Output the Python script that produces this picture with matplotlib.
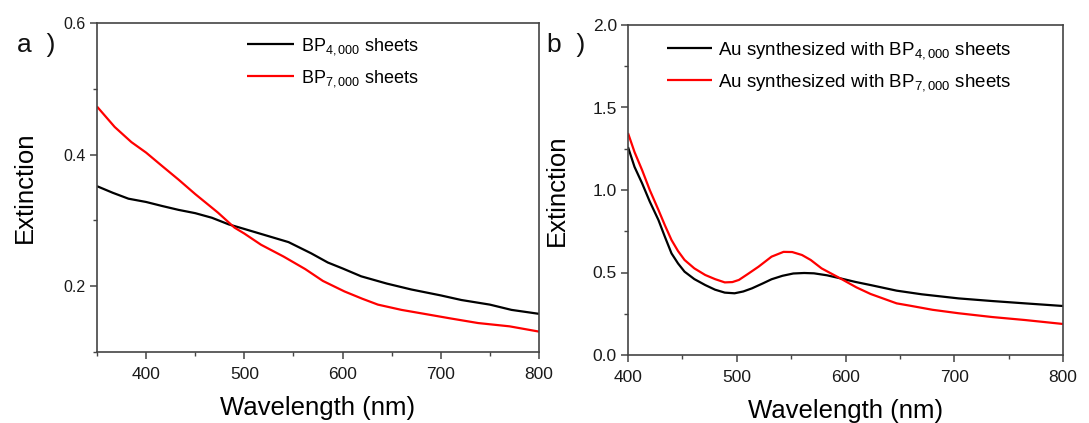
import matplotlib
matplotlib.use("Agg")
import matplotlib.pyplot as plt
from matplotlib.ticker import MultipleLocator, FormatStrFormatter

plt.rcParams['font.family'] = ['Liberation Sans', 'DejaVu Sans']
plt.rcParams['mathtext.fontset'] = 'custom'
plt.rcParams['mathtext.rm'] = 'Liberation Sans'
plt.rcParams['mathtext.it'] = 'Liberation Sans:italic'

# ---- Panel a data ----
wl_a_black = [350, 366, 382, 400, 416, 433, 450, 467, 484, 500, 518, 545, 568, 585, 600, 619,
              645, 670, 700, 721, 750, 772, 800]
ext_a_black = [0.352, 0.342, 0.333, 0.328, 0.322, 0.316, 0.311, 0.304, 0.294, 0.287, 0.279,
               0.267, 0.250, 0.236, 0.227, 0.215, 0.204, 0.195, 0.186, 0.179, 0.172, 0.164, 0.158]
wl_a_red = [350, 368, 385, 400, 416, 433, 450, 473, 490, 500, 517, 540, 562, 580, 602, 620,
            636, 660, 687, 710, 738, 770, 800]
ext_a_red = [0.473, 0.442, 0.419, 0.403, 0.383, 0.362, 0.340, 0.312, 0.289, 0.280, 0.263,
             0.245, 0.226, 0.208, 0.192, 0.181, 0.172, 0.164, 0.157, 0.151, 0.144, 0.139, 0.131]

# ---- Panel b data ----
wl_b_black = [400, 406, 413, 420, 428, 434, 440, 446, 452, 461, 471, 480, 489, 498, 506, 514,
              524, 532, 542, 552, 562, 571, 583, 595, 609, 623, 647, 670, 704, 735, 765, 800]
ext_b_black = [1.26, 1.14, 1.04, 0.93, 0.818, 0.715, 0.616, 0.555, 0.505, 0.460, 0.424, 0.396,
               0.378, 0.374, 0.385, 0.404, 0.434, 0.459, 0.480, 0.494, 0.497, 0.495, 0.483,
               0.465, 0.443, 0.424, 0.390, 0.368, 0.343, 0.327, 0.313, 0.297]
wl_b_red = [400, 406, 413, 420, 428, 434, 440, 446, 452, 461, 471, 480, 489, 496, 502, 510,
            520, 532, 543, 551, 560, 568, 578, 595, 610, 623, 647, 660, 680, 704, 735, 765, 800]
ext_b_red = [1.345, 1.23, 1.12, 1.00, 0.879, 0.785, 0.697, 0.630, 0.576, 0.525, 0.485, 0.460,
             0.440, 0.442, 0.455, 0.490, 0.535, 0.596, 0.625, 0.624, 0.606, 0.576, 0.525,
             0.465, 0.410, 0.370, 0.313, 0.298, 0.274, 0.253, 0.230, 0.212, 0.188]

labels_a = [r'BP$_{\mathrm{4,000}}$ sheets', r'BP$_{\mathrm{7,000}}$ sheets']
labels_b = [r'Au synthesized with BP$_{\mathrm{4,000}}$ sheets',
            r'Au synthesized with BP$_{\mathrm{7,000}}$ sheets']

W, H = 1089, 423
fig = plt.figure(figsize=(W / 100, H / 100), dpi=100)

def box(l, t, r, b):
    return [l / W, 1 - b / H, (r - l) / W, (b - t) / H]

ax1 = fig.add_axes(box(97, 23, 539, 352))
ax2 = fig.add_axes(box(628, 25, 1063, 355))

spine_col = '#444444'
tick_col = '#1a1a1a'

def style(ax, ysize):
    for s in ax.spines.values():
        s.set_color(spine_col)
        s.set_linewidth(1.2)
    ax.tick_params(which='both', direction='out', color=spine_col, top=False, right=False)
    ax.tick_params(which='major', length=5, width=1.1)
    ax.tick_params(which='minor', length=3, width=1.0)
    ax.tick_params(axis='x', labelsize=12.5, labelcolor=tick_col, pad=6)
    ax.tick_params(axis='y', labelsize=ysize, labelcolor=tick_col, pad=3)

lkw = dict(lw=1.6, solid_joinstyle='round', solid_capstyle='butt')

# Panel a
ax1.plot(wl_a_black, ext_a_black, color='black', label=labels_a[0], **lkw)
ax1.plot(wl_a_red, ext_a_red, color='#ff0000', label=labels_a[1], **lkw)
ax1.set_xlim(350, 800)
ax1.set_ylim(0.1, 0.6)
ax1.set_xticks([400, 500, 600, 700, 800])
ax1.xaxis.set_minor_locator(MultipleLocator(50))
ax1.set_yticks([0.2, 0.4, 0.6])
ax1.yaxis.set_minor_locator(MultipleLocator(0.1))
style(ax1, 11.5)
ax1.set_xlabel('Wavelength (nm)', fontsize=18.5, labelpad=10)
ax1.set_ylabel('Extinction', fontsize=18.5, labelpad=19)
ax1.legend(loc='upper left', bbox_to_anchor=(0.34, 0.96), frameon=False,
           fontsize=13, handlelength=2.6, handletextpad=0.4, labelspacing=0.6,
           borderpad=0, borderaxespad=0)
fig.text(17 / W, 1 - 52 / H, 'a  )', fontsize=19, color='#111111', ha='left', va='baseline')

# Panel b
ax2.plot(wl_b_black, ext_b_black, color='black', label=labels_b[0], **lkw)
ax2.plot(wl_b_red, ext_b_red, color='#ff0000', label=labels_b[1], **lkw)
ax2.set_xlim(400, 800)
ax2.set_ylim(0, 2.0)
ax2.xaxis.set_major_locator(MultipleLocator(100))
ax2.xaxis.set_minor_locator(MultipleLocator(50))
ax2.yaxis.set_major_locator(MultipleLocator(0.5))
ax2.yaxis.set_minor_locator(MultipleLocator(0.25))
style(ax2, 12.5)
ax2.yaxis.set_major_formatter(FormatStrFormatter('%.1f'))
ax2.set_xlabel('Wavelength (nm)', fontsize=18.5, labelpad=10)
ax2.set_ylabel('Extinction', fontsize=18.5, labelpad=17)
ax2.legend(loc='upper left', bbox_to_anchor=(0.09, 0.955), frameon=False,
           fontsize=13.5, handlelength=2.4, handletextpad=0.3, labelspacing=0.6,
           borderpad=0, borderaxespad=0)
fig.text(547 / W, 1 - 52 / H, 'b  )', fontsize=19, color='#111111', ha='left', va='baseline')

fig.savefig('out.png', dpi=100)
